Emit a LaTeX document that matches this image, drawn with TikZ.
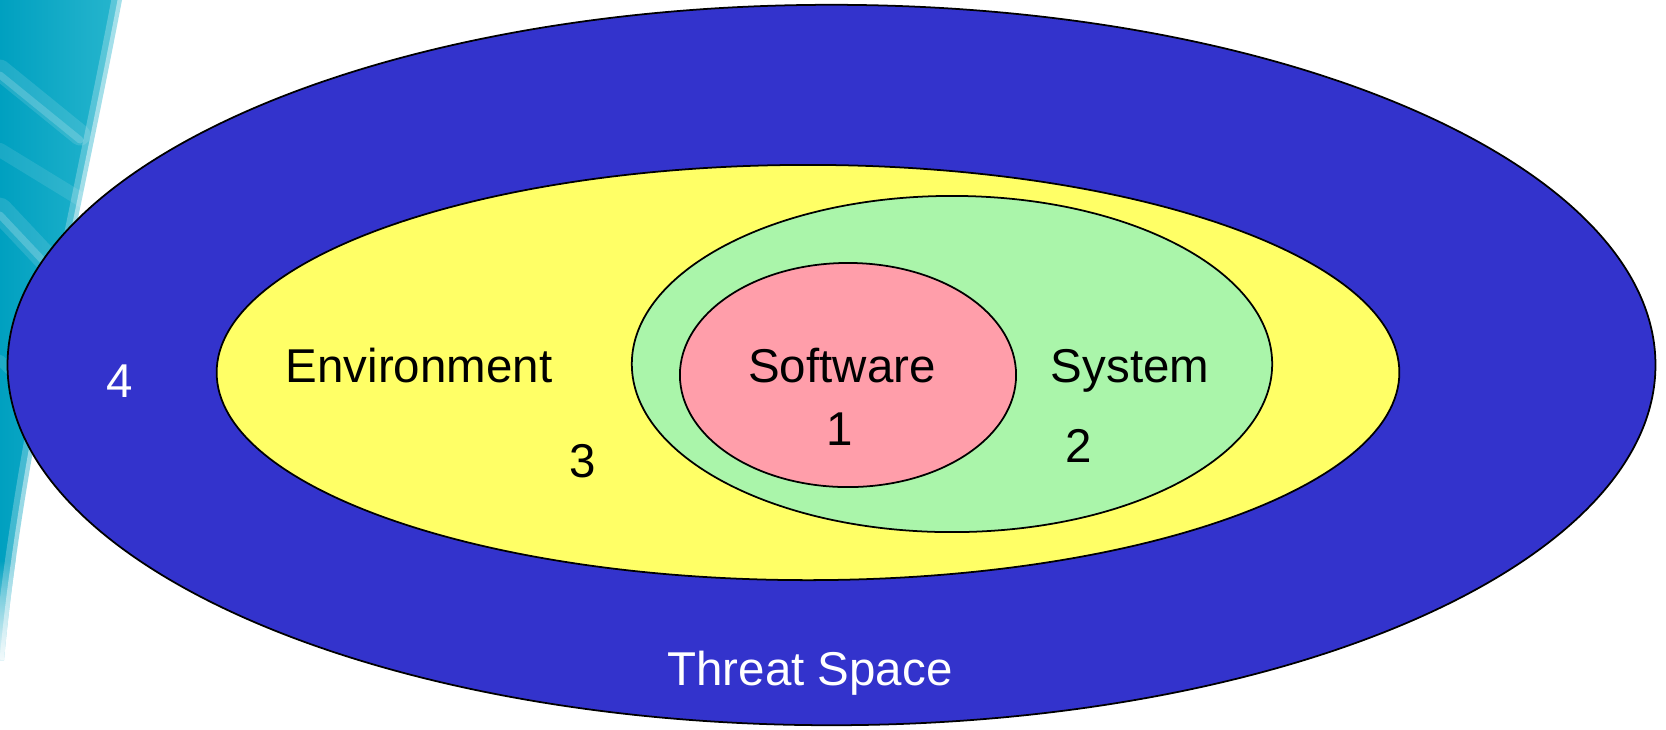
\documentclass[tikz,border=0pt]{standalone}
\usepackage{fontspec}
\setmainfont{Liberation Sans}
\usetikzlibrary{shapes.geometric}

\definecolor{threatblue}{RGB}{51,51,204}
\definecolor{envyellow}{RGB}{255,255,102}
\definecolor{sysgreen}{RGB}{170,245,170}
\definecolor{swpink}{RGB}{255,158,170}
\definecolor{tealdark}{RGB}{0,160,192}
\definecolor{teallight}{RGB}{40,182,206}

\tikzset{
  zone/.style={ellipse, draw=black, line width=0.5pt, inner sep=0pt, outer sep=0pt},
  lbl/.style={anchor=base, inner sep=0pt, font=\fontsize{13.5}{16}\selectfont},
  streak/.style={white, line cap=round},
}

\begin{document}
\begin{tikzpicture}[x=0.01cm, y=-0.01cm]
  \useasboundingbox (0,0) rectangle (1666,729);

  % teal swoosh at the left border
  \shade[left color=tealdark, right color=teallight]
    (0,0) -- (122,0) .. controls (82,210) and (22,460) .. (4,660) -- (0,660) -- cycle;
  % light streaks inside the swoosh
  \begin{scope}
    \clip (0,0) -- (122,0) .. controls (82,210) and (22,460) .. (4,660) -- (0,660) -- cycle;
    \draw[streak, opacity=0.12, line width=6pt] (0,70) -- (80,135);
    \draw[streak, opacity=0.18, line width=2pt] (0,75) -- (80,140);
    \draw[streak, opacity=0.12, line width=7pt] (0,210) -- (80,295);
    \draw[streak, opacity=0.20, line width=2pt] (0,215) -- (80,300);
    \draw[streak, opacity=0.10, line width=4pt] (0,150) -- (90,205);
    \draw[streak, opacity=0.12, line width=3pt] (0,360) -- (50,410);
    % fade towards the bottom
    \shade[top color=tealdark, bottom color=white, opacity=0.9] (0,560) rectangle (60,662);
  \end{scope}
  % soft light edge of the swoosh
  \draw[white, opacity=0.25, line width=6pt]
    (122,0) .. controls (82,210) and (22,460) .. (4,660);
  \draw[white, opacity=0.45, line width=2.5pt]
    (122,0) .. controls (82,210) and (22,460) .. (4,660);

  % nested zones
  \node[zone, fill=threatblue, minimum width=16.47cm, minimum height=7.20cm] (threat) at (831.5,365) {};
  \node[zone, fill=envyellow, minimum width=11.82cm, minimum height=4.15cm] (env) at (808,372.5) {};
  \node[zone, fill=sysgreen, minimum width=6.40cm, minimum height=3.36cm] (sys) at (952,364) {};
  \node[zone, fill=swpink, minimum width=3.36cm, minimum height=2.24cm] (sw) at (848,375) {};

  % zone labels
  \node[lbl] (envname) at (419,382) {Environment};
  \node[lbl] (swname) at (842,382) {Software};
  \node[lbl] (sysname) at (1130,382) {System};
  \node[lbl, white] (threatname) at (810,685) {Threat Space};

  % zone numbers
  \node[lbl] (n1) at (840,445) {1};
  \node[lbl] (n2) at (1079,462) {2};
  \node[lbl] (n3) at (583,477) {3};
  \node[lbl, white] (n4) at (120,397) {4};
\end{tikzpicture}
\end{document}
